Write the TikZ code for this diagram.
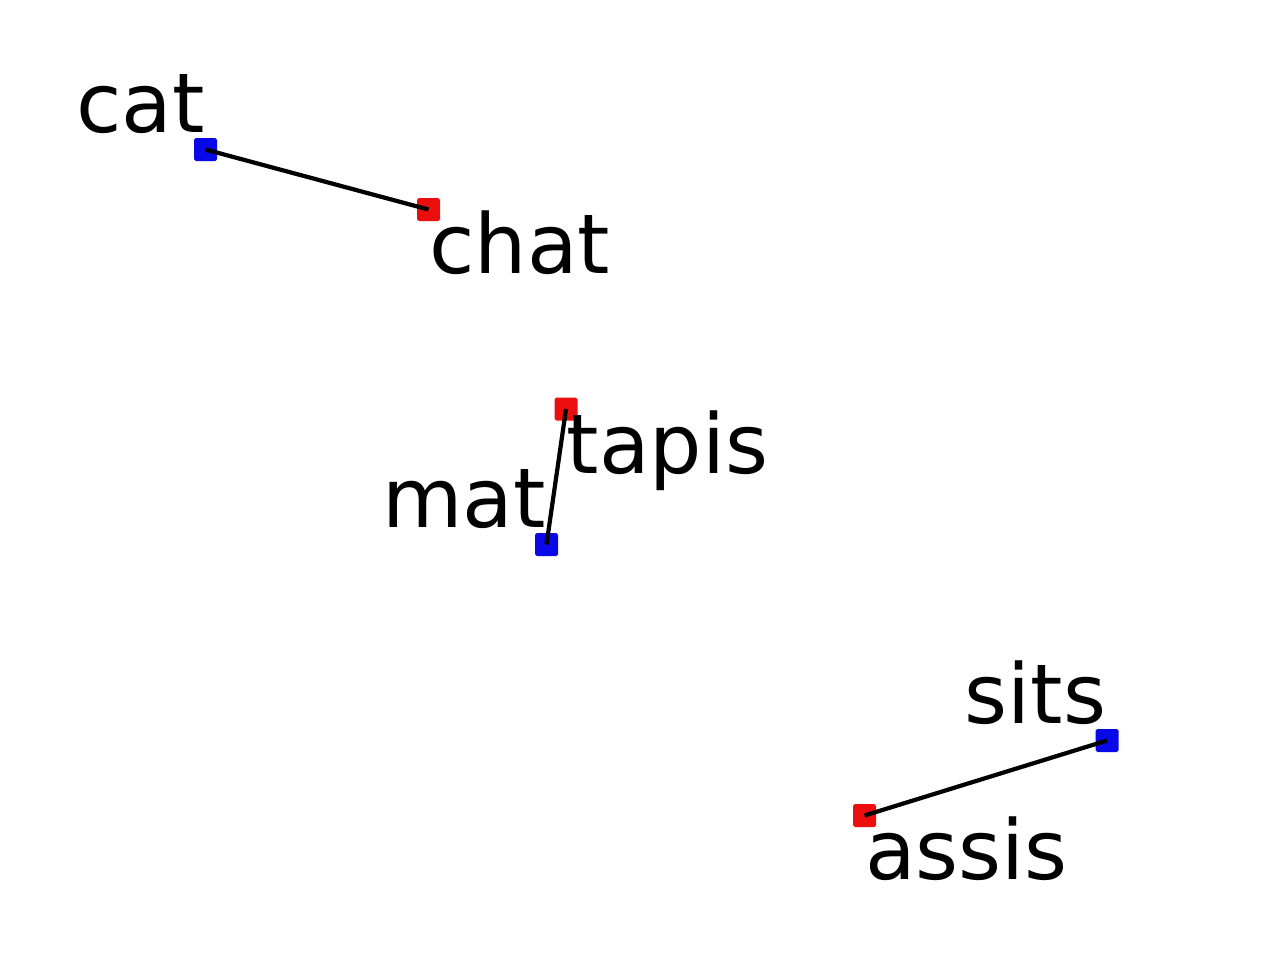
\documentclass[tikz,border=0pt]{standalone}
\usepackage{fontspec}
\setmainfont{DejaVu Sans}
\usetikzlibrary{calc}
\definecolor{enblue}{RGB}{8,8,232}
\definecolor{frred}{RGB}{236,14,14}
\tikzset{
    dot/.style={rectangle, rounded corners=0.5pt, minimum size=0.23cm, inner sep=0pt},
    word/.style={inner sep=0pt, font=\fontsize{23.5pt}{28pt}\selectfont},
    pair/.style={line width=1.2pt}
}

\begin{document}
\begin{tikzpicture}
            \useasboundingbox (0,0) rectangle (12.8,9.6);
            \foreach \n/\x/\y/\c in {cat/2.055/8.105/enblue, chat/4.285/7.505/frred, tapis/5.66/5.51/frred, mat/5.465/4.155/enblue, sits/11.07/2.195/enblue, assis/8.645/1.445/frred}
            \node[dot, fill=\c] at (\x,\y) (\n) {};
            \foreach \e/\f in {cat/chat, mat/tapis, sits/assis}{
            \draw[pair] (\e.center) -- (\f.center);
            \node[word, anchor=base east] at ($(\e)+(0,0.17)$) (w\e) {\e};
            \node[word, anchor=base west] at ($(\f)+(0,-0.64)$) (w\f) {\f};
            }
        \end{tikzpicture}
\end{document}
